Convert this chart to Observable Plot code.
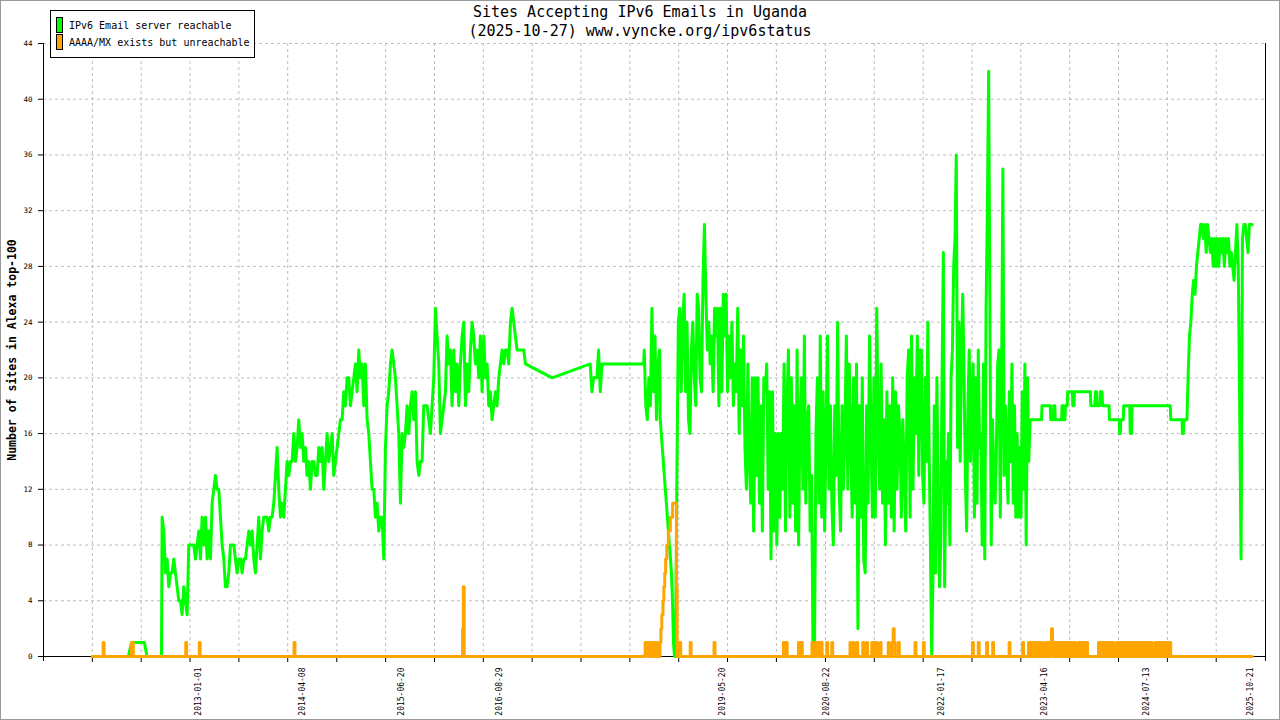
<!DOCTYPE html>
<html>
<head>
<meta charset="utf-8">
<script src="https://cdn.jsdelivr.net/npm/d3@7"></script>
<script src="https://cdn.jsdelivr.net/npm/@observablehq/plot@0.6"></script>
<style>
  body { margin: 0; background: #fff; }
  #wrap { position: relative; width: 1280px; height: 720px; overflow: hidden; font-family: "DejaVu Sans Mono", monospace; }
  #wrap svg { position: absolute; left: 0; top: 0; }
  .title { position: absolute; left: 0; top: 3px; width: 1280px; text-align: center; font-size: 15px; line-height: 19px; color: #000; }
  .legend { position: absolute; left: 50px; top: 10px; width: 203px; height: 46px; border: 1px solid #000; background: #fff; font-size: 10px; white-space: nowrap; }
  .legend .row { position: absolute; left: 5px; height: 16px; display: flex; align-items: center; }
  .legend .sw { width: 5px; height: 14px; border: 1px solid #000; margin-right: 6px; }
  .ylab { position: absolute; left: 12px; top: 350px; transform: translate(-50%, -50%) rotate(-90deg); font-size: 11.5px; font-weight: bold; white-space: nowrap; }
  .border { position: absolute; left: 0; top: 0; width: 1278px; height: 718px; border: 1px solid #999; pointer-events: none; }
</style>
</head>
<body>
<div id="wrap">
  <div class="title">Sites Accepting IPv6 Emails in Uganda<br>(2025-10-27) www.vyncke.org/ipv6status</div>
  <div class="ylab">Number of sites in Alexa top-100</div>
  <div class="legend">
    <div class="row" style="top:6px"><div class="sw" style="background:#00ff00"></div>IPv6 Email server reachable</div>
    <div class="row" style="top:23px"><div class="sw" style="background:#ffa500"></div>AAAA/MX exists but unreachable</div>
  </div>
  <div class="border"></div>
</div>
<script>
const parse = d3.utcParse("%Y-%m-%d");

// axes
const xDomain = ["2011-02-13", "2025-12-25"];
const yTicks = [0, 4, 8, 12, 16, 20, 24, 28, 32, 36, 40, 44];
const xTickLabels = ["2013-01-01", "2014-04-08", "2015-06-20", "2016-08-29", "2019-05-20",
  "2020-08-22", "2022-01-17", "2023-04-16", "2024-07-13", "2025-10-21"];
const gridStart = "2011-09-18", gridStepDays = 217.1, gridCount = 24;

// green: isolated points
const greenDates = ["2011-09-18", "2012-02-25", "2012-03-10", "2012-05-06", "2012-05-18", "2012-07-21",
  "2017-04-22", "2018-06-02",
  "2023-04-05", "2023-04-07", "2023-05-14", "2023-05-16", "2023-05-27", "2023-05-29", "2023-06-03", "2023-06-05",
  "2023-07-03", "2023-07-05", "2023-07-10", "2023-07-12", "2023-07-18", "2023-07-20", "2023-07-28", "2023-07-30",
  "2023-08-20", "2023-08-22", "2023-08-27", "2023-08-29", "2023-11-08", "2023-11-10", "2023-11-28", "2023-11-30",
  "2023-12-05", "2023-12-07", "2023-12-20", "2023-12-22", "2023-12-30", "2024-01-01", "2024-01-30", "2024-02-01",
  "2024-03-15", "2024-03-17", "2024-03-20", "2024-03-22", "2024-04-02", "2024-04-04", "2024-05-01", "2024-05-03",
  "2024-05-09", "2024-05-11", "2024-10-28", "2024-10-30", "2024-12-19", "2024-12-21", "2024-12-25", "2024-12-27",
  "2025-01-10"];
const greenValues = [0, 0, 1, 1, 0, 0,
  20, 21,
  17, 18, 18, 17, 17, 18, 18, 17,
  17, 18, 18, 17, 17, 18, 18, 19,
  19, 18, 18, 19, 19, 18, 18, 19,
  19, 18, 18, 19, 19, 18, 18, 17,
  17, 16, 16, 17, 17, 18, 18, 16,
  16, 18, 18, 17, 17, 16, 16, 17,
  17];

// green: dense runs, values evenly spread between first and last date
const green2012 = ["2012-07-24", "2016-12-24"];
const green2012Values = [10, 9, 6, 7, 5, 6, 6, 7, 6, 5, 4, 4, 3, 5, 4, 3, 8, 8, 8, 8, 7, 8, 9, 7, 10,
  8, 10, 7, 9, 7, 11, 12, 13, 12, 12, 10, 8, 7, 5, 5, 6, 8, 8, 8, 7, 6, 7, 7, 6, 7,
  7, 8, 9, 8, 9, 7, 6, 8, 10, 7, 9, 10, 10, 10, 9, 10, 10, 11,
  13, 15, 12, 10, 11, 10, 12, 14, 13, 14, 14, 16, 14, 15, 17, 15, 16, 14, 15, 13,
  14, 12, 14, 14, 13, 13, 15, 14, 15, 12, 14, 16, 14, 15, 16, 13, 14, 15, 16, 17,
  17, 19, 18, 20, 20, 18, 19, 20, 21, 19, 22, 20, 21, 18, 21, 17, 16, 14, 12, 12,
  10, 11, 9, 10, 10, 7, 15, 18, 19, 21, 22, 21, 20, 18, 16, 11, 16, 15, 16, 18,
  16, 18, 19, 17, 19, 14, 13, 14, 14, 18, 18, 18, 17, 16, 18, 20, 25, 23, 21, 16,
  17, 18, 19, 23, 21, 22, 18, 22, 19, 21, 18, 21, 23, 24, 18, 21, 19, 22, 24, 23,
  21, 22, 20, 23, 19, 23, 20, 21, 18, 19, 17, 18, 19, 18, 20, 21, 22, 21, 22, 22,
  21, 24, 25, 24, 23, 22, 22, 22, 22, 22, 21];
const green2017 = ["2017-10-08", "2017-11-29"];
const green2017Values = [21, 19, 20, 20, 20, 22, 19, 21];
const green2018 = ["2018-06-05", "2018-08-12"];
const green2018Values = [22, 18, 17, 20, 18, 25, 19, 23, 17, 21, 22];
const greenDrop = ["2018-08-15", "2018-10-22"];
const greenDropValues = [17, 16, 15, 14, 13, 12, 11, 10, 9, 8, 7, 6, 4, 1, 0, 0];
const green2019 = ["2018-10-28", "2021-10-13"];
const green2019Values = [13, 24, 25, 19, 24, 26, 19, 24, 17, 16, 22, 24, 20, 18, 26, 25, 20, 19, 27, 31,
  26, 22, 24, 21, 23, 19, 25, 23, 25, 18, 25, 19, 26, 23, 26, 19, 23, 20, 24, 18,
  21, 19, 25, 16, 22, 18, 23, 15, 12, 21, 14, 11, 20, 9, 20, 13, 20, 11, 18, 9,
  20, 19, 21, 12, 19, 7, 19, 9, 16, 8, 16, 10, 16, 12, 21, 9, 18, 22, 10, 20,
  11, 18, 9, 22, 8, 17, 20, 12, 23, 11, 17, 18, 9, 13, 0, 0, 16, 20, 11, 23,
  10, 19, 9, 16, 23, 12, 18, 11, 8, 18, 13, 24, 12, 9, 18, 12, 16, 23, 12, 21,
  16, 10, 20, 11, 21, 2, 18, 10, 20, 7, 6, 18, 11, 23, 16, 10, 20, 10, 25, 16,
  12, 21, 11, 17, 8, 19, 11, 18, 10, 20, 9, 19, 12, 18, 16, 10, 17, 13, 9, 20,
  22, 10, 23, 12, 20, 16, 23, 13, 22];
const green2021 = ["2021-10-18", "2023-02-13"];
const green2021Values = [22, 13, 11, 20, 14, 24, 15, 8, 0, 6, 18, 6, 20, 12, 5, 8, 20, 29, 5, 14,
  11, 16, 8, 20, 22, 28, 30, 36, 15, 24, 14, 22, 26, 20, 13, 9, 18, 22, 14, 18,
  21, 10, 20, 11, 22, 15, 16, 8, 21, 7, 25, 32, 42, 24, 8, 17, 13, 11, 15, 21,
  22, 10, 20, 35, 13, 18, 14, 11, 19, 14, 21, 11, 18, 10, 16, 10, 15, 10, 19, 12,
  21, 8, 20, 14, 17];
const green2025 = ["2025-01-15", "2025-10-27"];
const green2025Values = [20, 23, 24, 26, 27, 26, 28, 29, 30, 31, 31, 30, 31, 29, 31, 30, 29, 30, 28, 30,
  28, 30, 28, 30, 29, 30, 28, 30, 29, 30, 28, 29, 28, 27, 29, 31, 28, 18, 7, 30,
  31, 31, 30, 29, 31, 31, 31];

// orange: value holds until the next date
const orangeDates = ["2011-09-18", "2011-11-05", "2011-11-09", "2012-03-10", "2012-03-18", "2012-11-06", "2012-11-10",
  "2013-01-05", "2013-01-09", "2014-03-02", "2014-03-06", "2016-03-20", "2016-03-23", "2016-03-27",
  "2018-06-09", "2018-06-22", "2018-06-27", "2018-07-09", "2018-07-18", "2018-07-24", "2018-07-31", "2018-08-05",
  "2018-08-14", "2018-08-18", "2018-08-22", "2018-08-27", "2018-08-31", "2018-09-04", "2018-09-08", "2018-09-13",
  "2018-09-20", "2018-09-29", "2018-10-09", "2018-10-26", "2018-10-29", "2018-11-04", "2018-11-14",
  "2018-12-26", "2018-12-30", "2019-04-11", "2019-04-15",
  "2020-02-13", "2020-02-18", "2020-02-24", "2020-03-01", "2020-04-20", "2020-04-24", "2020-05-02", "2020-05-07",
  "2020-06-19", "2020-07-01", "2020-07-06", "2020-07-18", "2020-07-24", "2020-08-03", "2020-08-24", "2020-08-28",
  "2020-09-15", "2020-09-19", "2020-12-05", "2020-12-09", "2020-12-19", "2020-12-23", "2021-01-04", "2021-01-08",
  "2021-01-31", "2021-02-04", "2021-02-17", "2021-02-21", "2021-03-12", "2021-03-20", "2021-03-26", "2021-04-05",
  "2021-04-18", "2021-04-22", "2021-05-24", "2021-05-28", "2021-06-10", "2021-06-15", "2021-06-19", "2021-06-24",
  "2021-07-08", "2021-07-12", "2021-09-20", "2021-09-24", "2021-10-27", "2021-10-31",
  "2022-06-02", "2022-06-06", "2022-06-28", "2022-07-02", "2022-08-04", "2022-08-08", "2022-08-31", "2022-09-04",
  "2022-11-12", "2022-11-16", "2023-01-11", "2023-01-15",
  "2023-10-26", "2024-10-30", "2025-10-27"];
const orangeValues = [0, 1, 0, 1, 0, 1, 0,
  1, 0, 1, 0, 2, 5, 0,
  1, 0, 1, 0, 1, 0, 1, 0,
  1, 2, 3, 4, 5, 6, 7, 8,
  9, 10, 11, 5, 0, 1, 0,
  1, 0, 1, 0,
  1, 0, 1, 0, 1, 0, 1, 0,
  1, 0, 1, 0, 1, 0, 1, 0,
  1, 0, 1, 0, 1, 0, 1, 0,
  1, 0, 1, 0, 1, 0, 1, 0,
  1, 0, 1, 0, 1, 2, 1, 0,
  1, 0, 1, 0, 1, 0,
  1, 0, 1, 0, 1, 0, 1, 0,
  1, 0, 1, 0,
  0, 0, 0];

// orange: the two busy stretches where it flips between 0 and 1 almost daily
const orange2023 = ["2023-02-06", "2023-10-24"];
const orange2023Values = [1, 0, 1, 0, 1, 1, 0, 1, 0, 1, 0, 1, 0, 1, 0, 0, 0, 1, 0, 1,
  0, 1, 0, 1, 2, 1, 0, 1, 0, 1, 0, 1, 1, 0, 1, 0, 1, 0, 1, 0,
  1, 0, 1, 0, 1, 0, 1, 0, 1, 0, 0, 0, 1, 0, 1, 0, 1, 0, 1, 1, 0, 1];
const orange2024 = ["2023-12-14", "2024-10-28"];
const orange2024Values = [1, 0, 1, 0, 1, 0, 1, 0, 1, 0, 1, 0, 1, 0, 1, 0, 0, 0, 1, 0,
  1, 0, 1, 0, 1, 0, 1, 0, 1, 0, 1, 0, 1, 0, 1, 0, 1, 0, 1, 0,
  1, 0, 1, 0, 1, 0, 1, 0, 1, 0, 1, 0, 1, 0, 0, 0, 1, 0, 1, 0,
  1, 0, 1, 0, 1, 0, 1, 0, 1, 0, 1, 1];

function spread([start, end], values) {
  const t0 = +parse(start), t1 = +parse(end), n = values.length;
  return values.map((v, i) => ({date: new Date(t0 + (t1 - t0) * i / (n - 1)), value: v}));
}

const green = [
  ...greenDates.map((d, i) => ({date: parse(d), value: greenValues[i]})),
  ...spread(green2012, green2012Values),
  ...spread(green2017, green2017Values),
  ...spread(green2018, green2018Values),
  ...spread(greenDrop, greenDropValues),
  ...spread(green2019, green2019Values),
  ...spread(green2021, green2021Values),
  ...spread(green2025, green2025Values)
].sort((a, b) => a.date - b.date);

const orange = [
  ...orangeDates.map((d, i) => ({date: parse(d), value: orangeValues[i]})),
  ...spread(orange2023, orange2023Values),
  ...spread(orange2024, orange2024Values)
].sort((a, b) => a.date - b.date);

const domain = xDomain.map(parse);
const gridDates = d3.range(gridCount).map(i => d3.utcDay.offset(parse(gridStart), Math.round(i * gridStepDays)));
const labelDates = xTickLabels.map(parse);

const chart = Plot.plot({
  width: 1280,
  height: 720,
  marginLeft: 43,
  marginRight: 15,
  marginTop: 43,
  marginBottom: 64,
  style: {background: "transparent", fontFamily: "DejaVu Sans Mono, monospace", color: "black", overflow: "visible"},
  x: {type: "utc", domain: domain},
  y: {domain: [0, 44]},
  marks: [
    Plot.gridY(yTicks.slice(1), {stroke: "#bdbdbd", strokeOpacity: 1, strokeDasharray: "3,3"}),
    Plot.gridX(gridDates, {stroke: "#bdbdbd", strokeOpacity: 1, strokeDasharray: "3,3"}),
    Plot.axisY(yTicks, {tickSize: 5, tickPadding: 6, fontSize: 7.5, label: null}),
    Plot.axisX(gridDates, {tickSize: 6, tickFormat: () => "", label: null}),
    Plot.axisX(labelDates, {tickSize: 0, tickPadding: 11, tickRotate: -90, fontSize: 8,
      tickFormat: d3.utcFormat("%Y-%m-%d"), label: null}),
    Plot.ruleY([0], {stroke: "black"}),
    Plot.ruleX(domain, {stroke: "black", insetBottom: -5}),
    Plot.line(green, {x: "date", y: "value", stroke: "#00ff00", strokeWidth: 3}),
    Plot.line(orange, {x: "date", y: "value", stroke: "#ffa500", strokeWidth: 3, curve: "step-after"})
  ]
});

document.getElementById("wrap").insertBefore(chart, document.querySelector(".title"));
</script>
</body>
</html>
